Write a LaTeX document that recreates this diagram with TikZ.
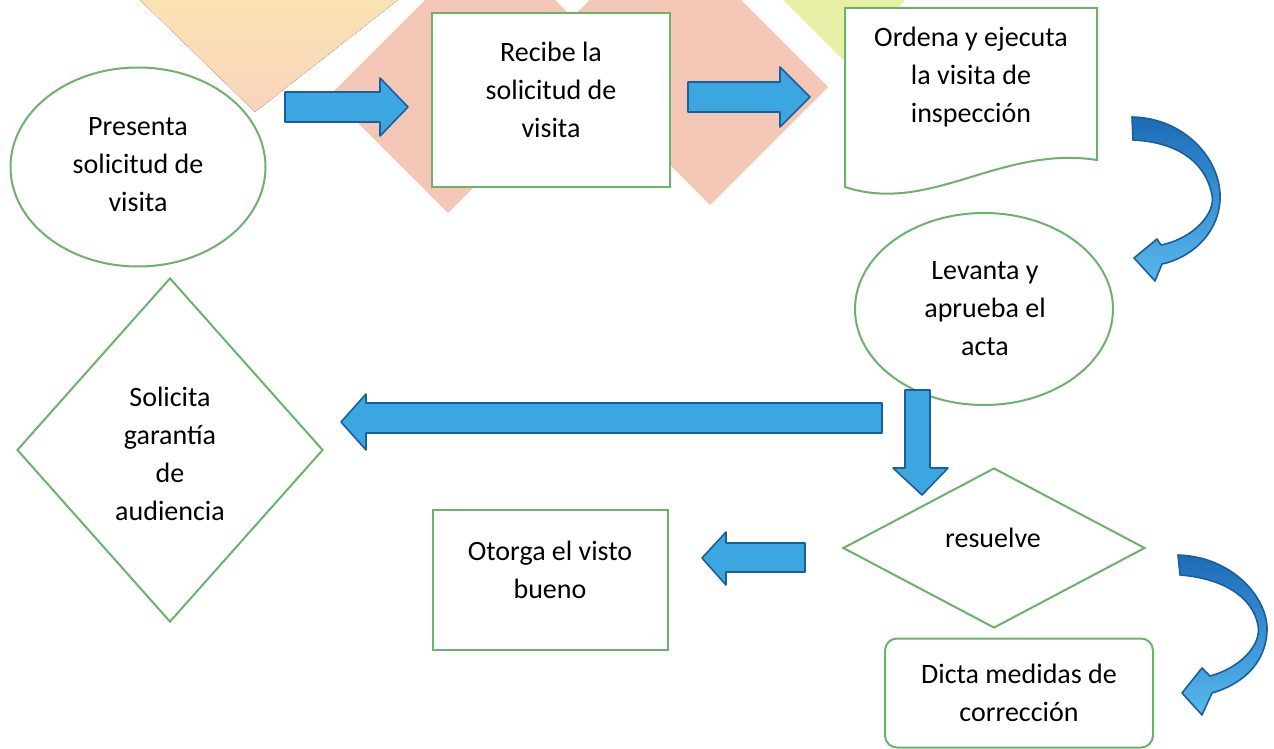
\documentclass[tikz,border=0pt]{standalone}
\usepackage{fontspec}
\setmainfont{Carlito}
\usetikzlibrary{shapes.geometric}
\definecolor{boxgreen}{HTML}{6DB26B}
\definecolor{arrowfill}{HTML}{3CA6E0}
\definecolor{arrowedge}{HTML}{1A5E9C}
\definecolor{bentdark}{HTML}{1C6CB8}
\definecolor{bentlight}{HTML}{58B8EC}
\definecolor{peachtop}{HTML}{FAE3B2}
\definecolor{peachbot}{HTML}{F8D4BE}
\definecolor{salmon}{HTML}{F3C6B6}
\definecolor{limebg}{HTML}{E8F0A8}
\tikzset{
  flowline/.style={draw=boxgreen, line width=1pt, fill=white, inner sep=0pt},
  lbl/.style={font=\fontsize{14}{19}\selectfont, text=black, align=center, inner sep=0pt},
  blockarrow/.style={fill=arrowfill, draw=arrowedge, line width=0.8pt, line join=round},
  bentarrow/.style={top color=bentdark, bottom color=bentlight, draw=arrowedge, line width=0.8pt, line join=round},
}
\begin{document}
\begin{tikzpicture}[x=0.5pt,y=-0.5pt]
\useasboundingbox (0,0) rectangle (1274,749);
% background decoration
\fill[top color=peachtop, bottom color=peachbot] (255,112) -- (140,0) -- (398,0) -- cycle;
\fill[salmon] (330,95) -- (448,213) -- (608,53) -- (555,0) -- (425,0) -- cycle;
\fill[salmon] (547,42) -- (710,205) -- (828,87) -- (741,0) -- (590,0) -- cycle;
\fill[limebg] (783,0) -- (848,65) -- (905,0) -- cycle;

% shapes
\node[flowline, ellipse, minimum width=127.5pt, minimum height=99.5pt] (n1) at (138,167) {};
\node[flowline, rectangle, minimum width=119pt, minimum height=87pt] (n2) at (551,100) {};
\node[rectangle, draw=none, minimum width=126pt, minimum height=89.5pt] (n3) at (971,97.5) {};
\draw[flowline] (845,8) -- (1097,8) -- (1097,160) .. controls (1000,145) and (930,215) .. (845,187) -- cycle;
\node[flowline, ellipse, minimum width=129pt, minimum height=96pt] (n4) at (984,309) {};
\node[flowline, diamond, minimum width=153pt, minimum height=172pt] (n5) at (170,450) {};
\node[flowline, diamond, minimum width=151pt, minimum height=80pt] (n6) at (994,548) {};
\node[flowline, rectangle, minimum width=117.5pt, minimum height=70pt] (n7) at (550,580) {};
\node[flowline, rectangle, rounded corners=6pt, minimum width=134pt, minimum height=54.5pt] (n8) at (1019,693) {};

% texts
\node[lbl] (t1) at (138,165) {Presenta\\solicitud de\\visita};
\node[lbl] (t2) at (551,90) {Recibe la\\solicitud de\\visita};
\node[lbl] (t3) at (971,77) {Ordena y ejecuta\\la visita de\\inspección};
\node[lbl] (t4) at (985,309) {Levanta y\\aprueba el\\acta};
\node[lbl] (t5) at (170,454) {Solicita\\garantía\\de\\audiencia};
\node[lbl] (t6) at (993,538) {resuelve};
\node[lbl] (t7) at (550,570) {Otorga el visto\\bueno};
\node[lbl] (t8) at (1019,693) {Dicta medidas de\\corrección};

% straight block arrows
\draw[blockarrow] (285,92) -- (380,92) -- (380,78) -- (408,107) -- (380,136) -- (380,122) -- (285,122) -- cycle;
\draw[blockarrow] (688,82) -- (780,82) -- (780,67) -- (810,97) -- (780,127) -- (780,112) -- (688,112) -- cycle;
\draw[blockarrow] (882,403) -- (366,403) -- (366,394) -- (341,422) -- (366,450) -- (366,433) -- (882,433) -- cycle;
\draw[blockarrow] (805,543) -- (726,543) -- (726,532) -- (702,558) -- (726,585) -- (726,572) -- (805,572) -- cycle;
\draw[blockarrow] (905,390) -- (930,390) -- (930,468) -- (948,468) -- (922,495) -- (893,468) -- (905,468) -- cycle;

% curved block arrows
\path[bentarrow] (1132,117) .. controls (1185,118) and (1222,160) .. (1220,200)
  .. controls (1218,235) and (1190,258) .. (1162,264) -- (1155,281) -- (1134,258) -- (1157,239)
  -- (1161,245) .. controls (1195,238) and (1216,212) .. (1212,195)
  .. controls (1205,160) and (1175,142) .. (1133,140) -- cycle;
\path[bentarrow] (1178,555) .. controls (1235,557) and (1268,600) .. (1267,630)
  .. controls (1266,665) and (1240,685) .. (1212,693) -- (1202,715) -- (1182,693) -- (1202,668)
  -- (1210,676) .. controls (1240,668) and (1262,645) .. (1258,625)
  .. controls (1252,595) and (1220,578) .. (1180,575) -- cycle;
\end{tikzpicture}
\end{document}
